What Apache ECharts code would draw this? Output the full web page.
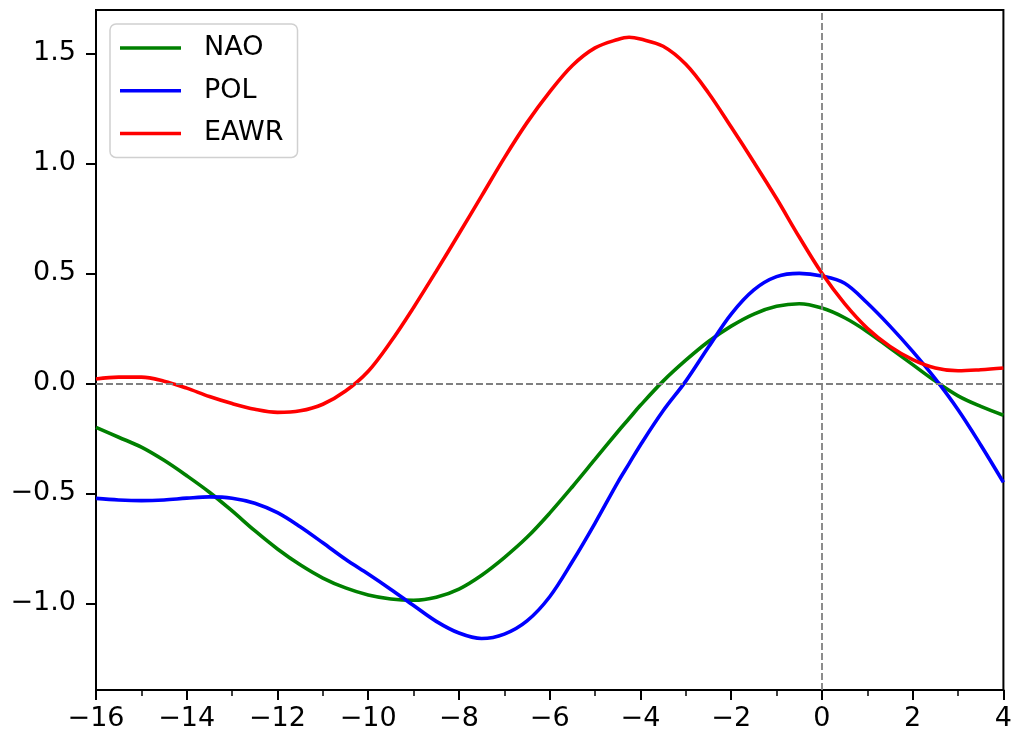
<!DOCTYPE html>
<html>
<head>
<meta charset="utf-8">
<script src="https://cdn.jsdelivr.net/npm/echarts@6/dist/echarts.min.js"></script>
<style>html,body{margin:0;padding:0;background:#fff;}#c{width:1015px;height:733px;}</style>
</head>
<body>
<div id="c"></div>
<script>
const lags = [-16,-15.5,-15,-14.5,-14,-13.5,-13,-12.5,-12,-11.5,-11,-10.5,-10,-9.5,-9,-8.5,-8,-7.5,-7,-6.5,-6,-5.5,-5,-4.5,-4.25,-4,-3.5,-3,-2.5,-2,-1.5,-1,-0.5,0,0.5,1,1.5,2,2.5,3,3.5,4];
const NAO = [-0.2,-0.245,-0.29,-0.35,-0.42,-0.495,-0.58,-0.67,-0.753,-0.825,-0.885,-0.93,-0.962,-0.98,-0.986,-0.972,-0.935,-0.872,-0.792,-0.70,-0.59,-0.47,-0.345,-0.22,-0.16,-0.10,0.01,0.105,0.19,0.26,0.315,0.35,0.362,0.342,0.298,0.235,0.16,0.085,0.01,-0.057,-0.105,-0.145];
const POL = [-0.523,-0.53,-0.533,-0.53,-0.522,-0.516,-0.522,-0.545,-0.588,-0.652,-0.725,-0.80,-0.867,-0.937,-1.01,-1.082,-1.135,-1.16,-1.14,-1.08,-0.97,-0.81,-0.635,-0.45,-0.365,-0.28,-0.125,0.01,0.165,0.315,0.425,0.485,0.5,0.488,0.455,0.365,0.26,0.145,0.02,-0.12,-0.28,-0.45];
const EAWR = [0.02,0.028,0.028,0.01,-0.022,-0.06,-0.092,-0.118,-0.132,-0.125,-0.095,-0.035,0.055,0.19,0.345,0.51,0.68,0.852,1.025,1.185,1.325,1.445,1.525,1.563,1.573,1.565,1.532,1.45,1.32,1.165,1.005,0.84,0.665,0.5,0.362,0.25,0.168,0.108,0.07,0.057,0.062,0.07];
const yTicks = [-1.0,-0.5,0.0,0.5,1.0,1.5];

const FONT = 'DejaVu Sans';
const minus = s => s.replace('-', '\u2212');
const pairs = arr => lags.map((x,i)=>[x, arr[i]]);

const chart = echarts.init(document.getElementById('c'), null, {renderer:'canvas'});
const mk = (name, color, data, extra) => Object.assign({
  name, type:'line', data: pairs(data), showSymbol:false, symbol:'none', smooth:0.35,
  lineStyle:{color, width:3.6}, itemStyle:{color}, z:3, animation:false
}, extra||{});

chart.setOption({
  animation:false,
  backgroundColor:'#fff',
  grid:{left:96, right:7, top:10, bottom:43, show:true, borderColor:'#000', borderWidth:2, backgroundColor:'transparent'},
  legend:{
    left:110, top:24, orient:'vertical',
    data:['NAO','POL','EAWR'],
    icon:'rect', itemWidth:61, itemHeight:3.5, itemGap:12.7,
    padding:[9,14,9,10],
    borderColor:'#d0d0d0', borderWidth:1.5, borderRadius:6,
    backgroundColor:'rgba(255,255,255,0.8)',
    textStyle:{fontFamily:FONT, fontSize:27, color:'#000', lineHeight:30, padding:[0,0,0,18]}
  },
  xAxis:{
    type:'value', min:-16, max:4, interval:2,
    axisLine:{show:true, onZero:false, lineStyle:{color:'#000', width:2}},
    axisTick:{show:true, inside:false, length:10, lineStyle:{color:'#000', width:2}},
    minorTick:{show:true, splitNumber:2, length:6, lineStyle:{color:'#000', width:1.5}},
    splitLine:{show:false},
    axisLabel:{fontFamily:FONT, fontSize:27, color:'#000', margin:15, formatter:v=>minus(String(v))}
  },
  yAxis:{
    type:'value', min:-1.394, max:1.697,
    axisLine:{show:true, onZero:false, lineStyle:{color:'#000', width:2}},
    axisTick:{show:true, inside:false, length:10, lineStyle:{color:'#000', width:2}, customValues:yTicks},
    splitLine:{show:false},
    axisLabel:{fontFamily:FONT, fontSize:27, color:'#000', margin:20, customValues:yTicks, formatter:v=>minus(Number(v).toFixed(1))}
  },
  series:[
    mk('NAO','#008000',NAO,{
      markLine:{silent:true, symbol:['none','none'], label:{show:false}, animation:false,
        lineStyle:{color:'#808080', type:[7,3], width:1.8},
        data:[{xAxis:0},{yAxis:0}]}
    }),
    mk('POL','#0000ff',POL),
    mk('EAWR','#ff0000',EAWR)
  ]
});
</script>
</body>
</html>
